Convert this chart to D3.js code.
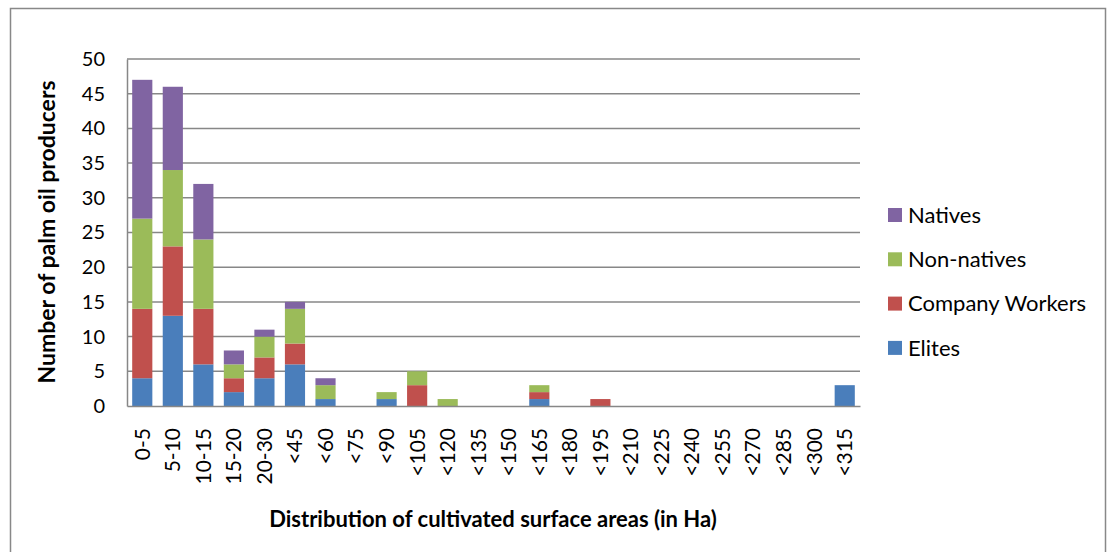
<!DOCTYPE html>
<html lang="en">
<head>
<meta charset="UTF-8">
<title>Palm oil producers</title>
<script src="https://cdn.jsdelivr.net/npm/d3@7"></script>
<style>
  body { margin: 0; background: #fff; }
  text { font-family: Lato, "Open Sans", sans-serif; fill: #000; }
</style>
</head>
<body>
<script>
    var categories = ["0-5", "5-10", "10-15", "15-20", "20-30", "<45", "<60", "<75", "<90", "<105", "<120", "<135",
        "<150", "<165", "<180", "<195", "<210", "<225", "<240", "<255", "<270", "<285", "<300", "<315"];
    var seriesNames = ["Elites", "Company Workers", "Non-natives", "Natives"];
    var elites         = [4, 13, 6, 2, 4, 6, 1, 0, 1, 0, 0, 0, 0, 1, 0, 0, 0, 0, 0, 0, 0, 0, 0, 3];
    var companyWorkers = [10, 10, 8, 2, 3, 3, 0, 0, 0, 3, 0, 0, 0, 1, 0, 1, 0, 0, 0, 0, 0, 0, 0, 0];
    var nonNatives     = [13, 11, 10, 2, 3, 5, 2, 0, 1, 2, 1, 0, 0, 1, 0, 0, 0, 0, 0, 0, 0, 0, 0, 0];
    var natives        = [20, 12, 8, 2, 1, 1, 1, 0, 0, 0, 0, 0, 0, 0, 0, 0, 0, 0, 0, 0, 0, 0, 0, 0];
    var yTicks = [0, 5, 10, 15, 20, 25, 30, 35, 40, 45, 50];
    var colors = ["#4a7ebb", "#c0504d", "#9bbb59", "#8064a2"];

    var W = 1107, H = 552;
    var plotLeft = 127, plotRight = 860, plotTop = 59, plotBottom = 406;

    var svg = d3.select("body").append("svg")
        .attr("width", W).attr("height", H);

    // outer chart border
    svg.append("rect")
        .attr("x", 10.5).attr("y", 8.5)
        .attr("width", W - 12).attr("height", H)
        .attr("fill", "none").attr("stroke", "#888").attr("stroke-width", 1.5);

    var table = categories.map(function (c, i) {
        return {cat: c, "Elites": elites[i], "Company Workers": companyWorkers[i],
            "Non-natives": nonNatives[i], "Natives": natives[i]};
    });
    var stacked = d3.stack().keys(seriesNames)(table);

    var x = d3.scaleBand().domain(categories).range([plotLeft, plotRight]).paddingInner(0.34).paddingOuter(0.17);
    var y = d3.scaleLinear().domain([0, 50]).range([plotBottom, plotTop]);

    // gridlines
    svg.append("g")
        .selectAll("line")
        .data(yTicks.filter(function (d) { return d > 0; }))
        .enter().append("line")
        .attr("x1", plotLeft).attr("x2", plotRight)
        .attr("y1", function (d) { return y(d); })
        .attr("y2", function (d) { return y(d); })
        .attr("stroke", "#878787").attr("stroke-width", 1.5);

    // bars
    svg.append("g")
        .selectAll("g")
        .data(stacked)
        .enter().append("g")
        .attr("fill", function (d, i) { return colors[i]; })
        .selectAll("rect")
        .data(function (d) { return d; })
        .enter().append("rect")
        .attr("x", function (d) { return x(d.data.cat); })
        .attr("width", x.bandwidth())
        .attr("y", function (d) { return y(d[1]); })
        .attr("height", function (d) { return y(d[0]) - y(d[1]); });

    // y axis
    var yAxis = d3.axisLeft(y).tickValues(yTicks).tickSize(0).tickPadding(22);
    var yg = svg.append("g").attr("transform", "translate(" + plotLeft + ",0)").call(yAxis);
    yg.select(".domain").attr("stroke", "#878787").attr("stroke-width", 1.5);
    yg.selectAll("text").style("font-size", "20px").style("font-family", "Lato, sans-serif");

    // x axis
    var xAxis = d3.axisBottom(x).tickSize(0).tickPadding(0);
    var xg = svg.append("g").attr("transform", "translate(0," + plotBottom + ")").call(xAxis);
    xg.select(".domain").attr("stroke", "#878787").attr("stroke-width", 1.5);
    xg.selectAll("text")
        .attr("transform", "rotate(-90)")
        .attr("x", -22).attr("y", 0).attr("dy", "0.35em")
        .style("text-anchor", "end")
        .style("font-size", "21px").style("font-family", "Lato, sans-serif");

    // axis titles
    svg.append("text")
        .attr("x", 493).attr("y", 527)
        .attr("text-anchor", "middle")
        .style("font-size", "22px").style("font-weight", "bold")
        .text("Distribution of cultivated surface areas (in Ha)");
    svg.append("text")
        .attr("transform", "translate(55,232) rotate(-90)")
        .attr("text-anchor", "middle")
        .style("font-size", "23px").style("font-weight", "bold")
        .text("Number of palm oil producers");

    // legend
    var legendItems = seriesNames.slice().reverse();
    var lg = svg.append("g").selectAll("g")
        .data(legendItems)
        .enter().append("g")
        .attr("transform", function (d, i) { return "translate(888," + (215 + i * 44.3) + ")"; });
    lg.append("rect")
        .attr("x", 0).attr("y", -7).attr("width", 14).attr("height", 14)
        .attr("fill", function (d) { return colors[seriesNames.indexOf(d)]; });
    lg.append("text")
        .attr("x", 20).attr("y", 0).attr("dy", "0.35em")
        .style("font-size", "22px")
        .text(function (d) { return d; });
</script>
</body>
</html>
